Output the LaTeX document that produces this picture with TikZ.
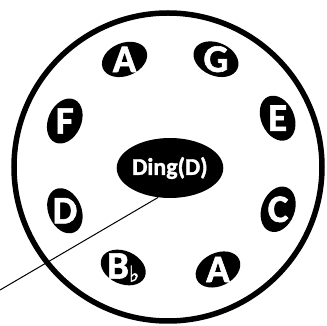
\documentclass[tikz,border=0pt]{standalone}
\usepackage{fontspec}
\setmainfont{Carlito}
\newfontfamily\heavyfont[FakeBold=1.5]{Carlito Bold}
\newfontfamily\flatfont[FakeBold=1.5]{DejaVu Sans}
\usetikzlibrary{shapes.geometric}
\newcommand\bflat{{\flatfont\fontsize{22}{22}\selectfont\raisebox{-3pt}{♭}}}

\begin{document}
\begin{tikzpicture}[
  x=1pt, y=1pt,
  blob/.style={ellipse, fill=black, inner sep=0pt,
               minimum width=47pt, minimum height=33pt},
  note/.style={text=white, inner sep=0pt,
               font=\heavyfont\fontsize{39}{39}\selectfont},
  hub/.style={ellipse, fill=black, inner sep=0pt,
              minimum width=90pt, minimum height=60pt, text=white,
              font=\heavyfont\fontsize{24}{24}\selectfont}
]
\useasboundingbox (-168,-159) rectangle (159,167);
\node[circle, draw, line width=5.5pt, minimum size=308pt, inner sep=0pt] (wheel) at (0,0) {};
\node[hub] (ding) at (2,-1) {Ding(D)};

% notes round the wheel
\foreach \a/\r/\l/\n in {24/120/E/e, 66/118/G/g, 112/116/A/a, 156/113/F/f,
                         203/112/D/d, 246/110/B\bflat/b, 296/114/A/aa, 339/118/C/c}{
  \node[blob, rotate=\a-90] (\n) at (\a:\r) {};
  \node[note] (t\n) at (\n) {\l};
}

\coordinate (tail) at (-168,-123);
\draw[line width=1pt] (ding.-112) -- (tail);
\end{tikzpicture}
\end{document}
